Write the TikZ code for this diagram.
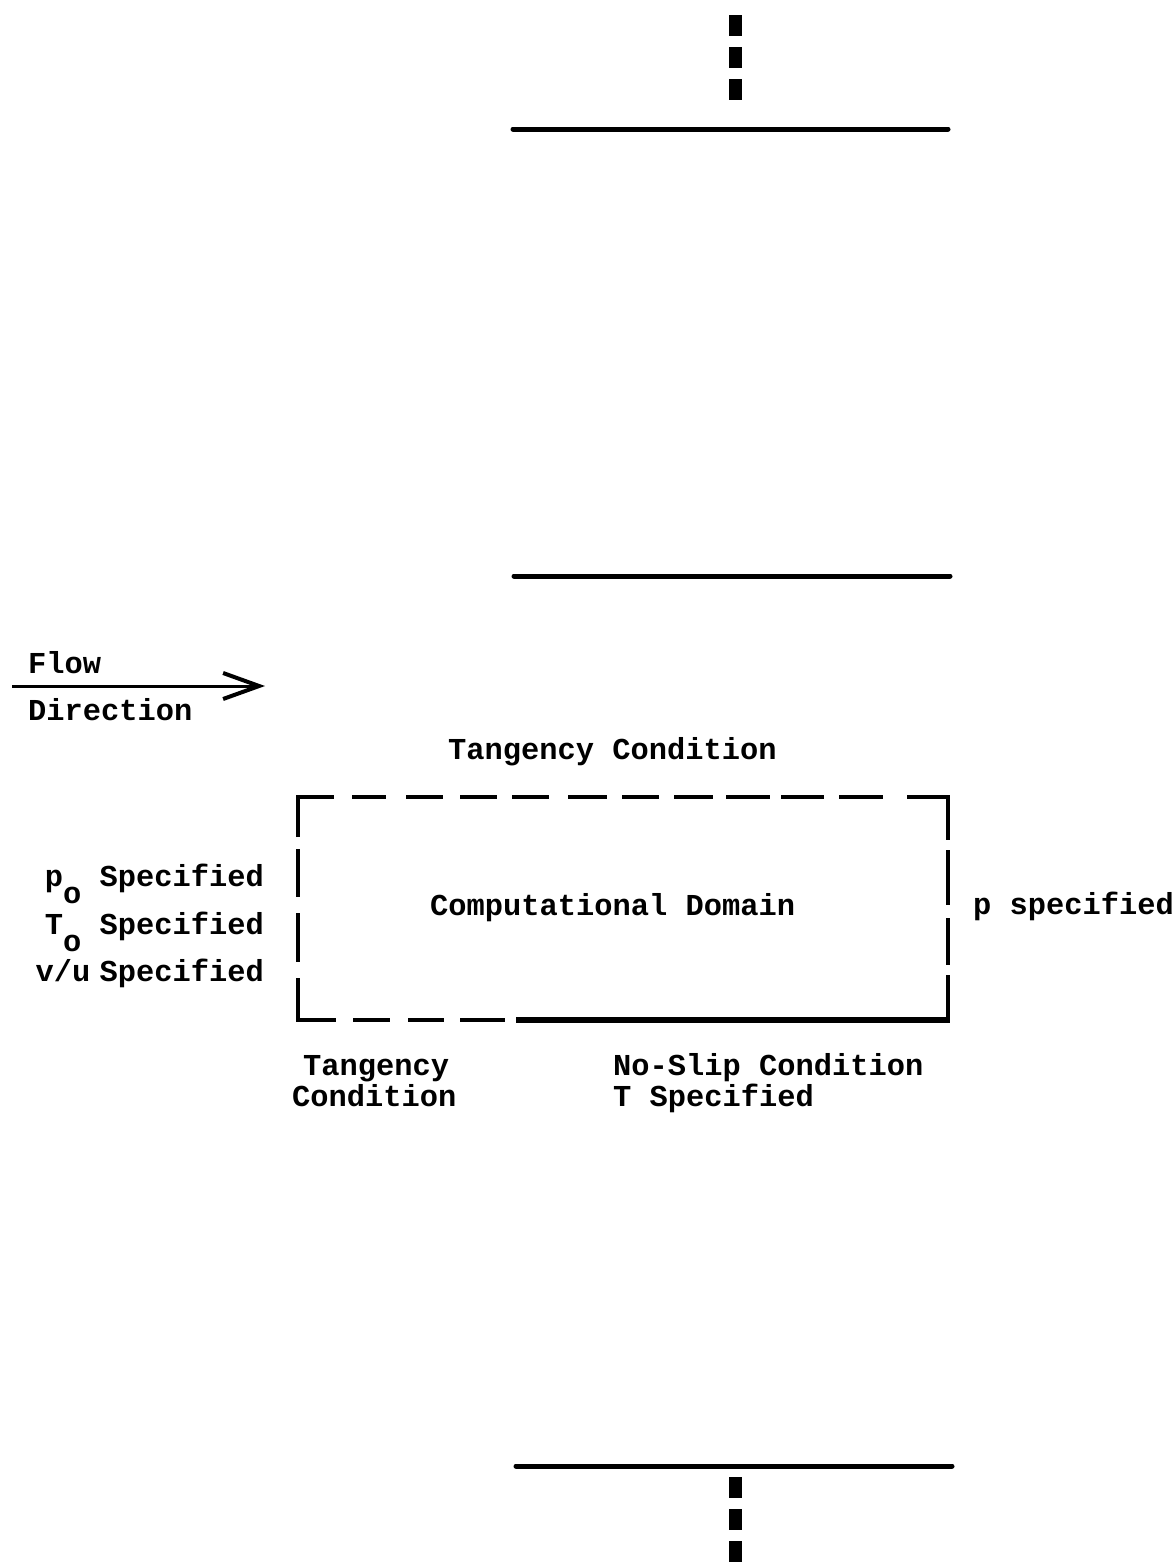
\documentclass[tikz,border=0pt]{standalone}
\usepackage{fontspec}
\newfontfamily\twfont{Liberation Mono}
\usetikzlibrary{arrows.meta}
\begin{document}
\begin{tikzpicture}[x=1pt,y=-1pt,
  lbl/.style={inner sep=0pt,font=\twfont\bfseries\fontsize{30.4}{36}\selectfont,text=black},
  wall/.style={line width=5pt,line cap=round},
  bdash/.style={line width=4pt,line join=miter},
  tick/.style={line width=13pt,dash pattern=on 21pt off 11pt}]
\useasboundingbox[fill=white] (0,0) rectangle (1175,1566);
% walls
\draw[wall] (513,129) -- (948,129);
\draw[wall] (514,576) -- (950,576);
\draw[wall] (516,1466) -- (952,1466);
% symmetry ticks
\draw[tick] (735.5,15) -- (735.5,100);
\draw[tick] (735,1477) -- (735,1562);
% flow arrow
\coordinate (fa) at (12,686);
\coordinate (fb) at (265,686);
\draw[line width=3pt,-{Straight Barb[length=36pt,width=26pt,line width=4pt]}] (fa) -- (fb);
\node[lbl,anchor=base west] (flow) at (28,673) {Flow};
\node[lbl,anchor=base west] (dir) at (28,720) {Direction};
% computational domain box
\draw[bdash] (298,837) -- (298,797) -- (334,797);
\foreach \a/\b in {352/386,406/443,460/497,512/549,568/607,622/659,674/713,726/770,781/824,839/883}
  \draw[bdash] (\a,797) -- (\b,797);
\draw[bdash] (907,797) -- (948,797) -- (948,840);
\foreach \a/\b in {849/897,913/962}
  \draw[bdash] (298,\a) -- (298,\b);
\foreach \a/\b in {850/905,918/965}
  \draw[bdash] (948,\a) -- (948,\b);
\draw[bdash] (298,978) -- (298,1020) -- (336,1020);
\foreach \a/\b in {353/390,408/444,460/505}
  \draw[bdash] (\a,1020) -- (\b,1020);
\draw[bdash] (948,975) -- (948,1020);
\draw[line width=6pt] (516,1020) -- (950,1020);
% labels
\node[lbl,anchor=base west] (tc) at (448,759) {Tangency Condition};
\node[lbl,anchor=base west] (cd) at (430,915) {Computational Domain};
\node[lbl,anchor=base west] (ps) at (973,914) {p specified};
\node[lbl,anchor=base east] (l1) at (264,886) {p\lower17pt\hbox{o} Specified};
\node[lbl,anchor=base east] (l2) at (264,934) {T\lower17pt\hbox{o} Specified};
\node[lbl,anchor=base east] (l3) at (264,981) {v/u\hspace{-9pt} Specified};
\node[lbl,anchor=base west] (t1) at (303,1075) {Tangency};
\node[lbl,anchor=base west] (t2) at (292,1106) {Condition};
\node[lbl,anchor=base west] (n1) at (613,1075) {No-Slip Condition};
\node[lbl,anchor=base west] (n2) at (613,1106) {T Specified};
\end{tikzpicture}
\end{document}
